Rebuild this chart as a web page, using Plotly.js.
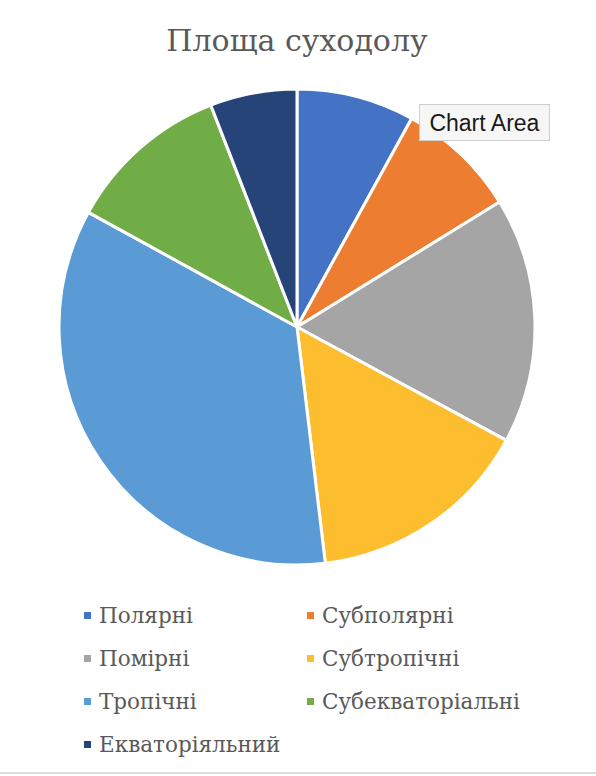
<!DOCTYPE html>
<html><head><meta charset="utf-8">
<script src="https://cdn.plot.ly/plotly-3.0.1.min.js"></script>
<style>html,body{margin:0;padding:0;background:#fff;}#c{width:596px;height:776px;}</style>
</head><body><div id="c"></div>
<script>
var categories = ["Полярні","Субполярні","Помірні","Субтропічні","Тропічні","Субекваторіальні","Екваторіяльний"];
var values = [8.0, 8.2, 16.7, 15.2, 34.9, 11.1, 5.9];
var colors = ["#4472C4","#ED7D31","#A5A5A5","#FCBE2F","#5B9BD5","#70AD47","#264478"];

var W = 596, H = 776;
var legX = [88, 311], legY = [616, 659, 702, 745];
var shapes = [], annotations = [];
categories.forEach(function(c, i){
  var col = i % 2, row = Math.floor(i / 2);
  var x = legX[col], y = legY[row];
  shapes.push({type:'rect', xref:'paper', yref:'paper',
    x0:(x-4)/W, x1:(x+3)/W, y0:1-(y+3)/H, y1:1-(y-4)/H,
    fillcolor:colors[i], line:{width:0}});
  annotations.push({xref:'paper', yref:'paper', x:(x+9)/W, y:1-(y-1)/H,
    xanchor:'left', yanchor:'middle', showarrow:false, text:c,
    font:{family:'DejaVu Serif, serif', size:21.5, color:'#595959'}});
});
// bottom separator line
shapes.push({type:'line', xref:'paper', yref:'paper', x0:0, x1:1, y0:1-773/H, y1:1-773/H, line:{color:'#dcdcdc', width:2}});
// tooltip
annotations.push({xref:'paper', yref:'paper', x:419/W, y:1-104/H, xanchor:'left', yanchor:'top',
  showarrow:false, text:'Chart Area', width:120, height:26, align:'center', valign:'middle',
  bgcolor:'#f6f6f6', bordercolor:'#cfcfcf', borderwidth:1, borderpad:4.5,
  font:{family:'Liberation Sans, Arial, sans-serif', size:23, color:'#1a1a1a'}});

var cx = 297, cy = 327, r = 238;
Plotly.newPlot('c', [{
  type:'pie', labels:categories, values:values, sort:false, direction:'clockwise', rotation:0,
  marker:{colors:colors, line:{color:'#ffffff', width:3}},
  textinfo:'none', hoverinfo:'none', showlegend:false,
  domain:{x:[(cx-r)/W,(cx+r)/W], y:[1-(cy+r)/H, 1-(cy-r)/H]}
}], {
  width:W, height:H, margin:{l:0,r:0,t:0,b:0}, paper_bgcolor:'#fff', showlegend:false,
  title:{text:'Площа суходолу', x:297/W, xanchor:'center', y:1-40/H, yanchor:'middle',
    font:{family:'DejaVu Serif, serif', size:30, color:'#595959'}},
  shapes:shapes, annotations:annotations
}, {staticPlot:true});
</script></body></html>
